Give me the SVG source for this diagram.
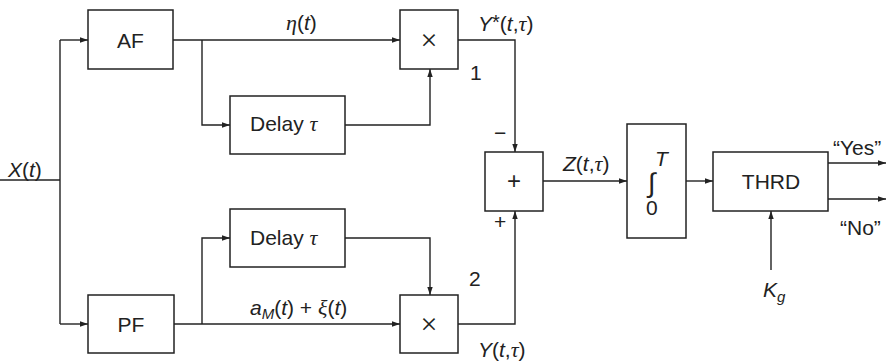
<svg xmlns="http://www.w3.org/2000/svg" width="886" height="362" viewBox="0 0 886 362">
<style>
.box{fill:#fff;stroke:#222;stroke-width:1.5}
.ln{fill:none;stroke:#222;stroke-width:1.4}
text{font-family:"Liberation Sans",Arial,sans-serif;font-size:21px;fill:#222}
.i{font-style:italic}
.g{font-family:"Liberation Serif","Times New Roman",serif;font-style:italic;font-size:22px}
.c{text-anchor:middle}
.x{font-family:"Liberation Serif","Times New Roman",serif;font-size:30px}
</style>
<defs>
<marker id="ah" markerUnits="userSpaceOnUse" markerWidth="10" markerHeight="8" viewBox="0 0 10 8" refX="8" refY="4" orient="auto">
<path d="M0,1.3 L8,4 L0,6.7 Z" fill="#222"/>
</marker>
</defs>
<rect width="886" height="362" fill="#fff"/>
<g id="connectors">
<path class="ln" d="M0,180 H60"/>
<path class="ln" d="M60,40 V324"/>
<path class="ln" d="M60,40 H88" marker-end="url(#ah)"/>
<path class="ln" d="M60,324 H88" marker-end="url(#ah)"/>
<path class="ln" d="M173,40 H400" marker-end="url(#ah)"/>
<path class="ln" d="M202,40 V125 H230" marker-end="url(#ah)"/>
<path class="ln" d="M345,125 H430 V69" marker-end="url(#ah)"/>
<path class="ln" d="M458,40 H515 V152" marker-end="url(#ah)"/>
<path class="ln" d="M174,324 H400" marker-end="url(#ah)"/>
<path class="ln" d="M202,324 V238 H230" marker-end="url(#ah)"/>
<path class="ln" d="M345,238 H430 V295" marker-end="url(#ah)"/>
<path class="ln" d="M458,324 H515 V211" marker-end="url(#ah)"/>
<path class="ln" d="M543,181 H627" marker-end="url(#ah)"/>
<path class="ln" d="M686,181 H713" marker-end="url(#ah)"/>
<path class="ln" d="M828,163 H886" marker-end="url(#ah)"/>
<path class="ln" d="M828,199 H886" marker-end="url(#ah)"/>
<path class="ln" d="M771,270 V211" marker-end="url(#ah)"/>
</g>
<g id="labels">
<text x="8" y="177"><tspan class="i">X</tspan>(<tspan class="i">t</tspan>)</text>
<text x="286" y="30"><tspan class="g">η</tspan>(<tspan class="i">t</tspan>)</text>
<text x="478" y="31"><tspan class="i">Y</tspan><tspan font-size="20" dy="-2">*</tspan><tspan dy="2">(</tspan><tspan class="i">t</tspan>,<tspan class="g">τ</tspan>)</text>
<text x="470" y="80">1</text>
<text x="494" y="140">−</text>
<text x="494" y="229">+</text>
<text x="469" y="286">2</text>
<text x="478" y="357"><tspan class="i">Y</tspan>(<tspan class="i">t</tspan>,<tspan class="g">τ</tspan>)</text>
<text x="250" y="315"><tspan class="i">a</tspan><tspan class="i" font-size="15" dy="4">M</tspan><tspan dy="-4">(</tspan><tspan class="i">t</tspan>) + <tspan class="g">ξ</tspan>(<tspan class="i">t</tspan>)</text>
<text x="563" y="171"><tspan class="i">Z</tspan>(<tspan class="i">t</tspan>,<tspan class="g">τ</tspan>)</text>
<text x="833" y="155">“Yes”</text>
<text x="840" y="235">“No”</text>
<text x="763" y="297"><tspan class="i">K</tspan><tspan class="i" font-size="15" dy="5">g</tspan></text>
</g>
<g id="af"><rect class="box" x="88" y="10" width="85" height="59"/><text class="c" x="130.5" y="48">AF</text></g>
<g id="pf"><rect class="box" x="88" y="295" width="86" height="58"/><text class="c" x="131" y="332">PF</text></g>
<g id="delay1"><rect class="box" x="230" y="96" width="115" height="58"/><text x="250" y="131">Delay <tspan class="g">τ</tspan></text></g>
<g id="delay2"><rect class="box" x="230" y="209" width="115" height="58"/><text x="250" y="245">Delay <tspan class="g">τ</tspan></text></g>
<g id="mult1"><rect class="box" x="400" y="10" width="58" height="59"/><text class="c x" x="429" y="50">×</text></g>
<g id="mult2"><rect class="box" x="400" y="295" width="58" height="58"/><text class="c x" x="429" y="334">×</text></g>
<g id="sum"><rect class="box" x="485" y="152" width="58" height="59"/><text class="c" x="514" y="189" style="font-size:24px">+</text></g>
<g id="integrator"><rect class="box" x="627" y="124" width="59" height="114"/>
<text class="i" x="655" y="166">T</text>
<text class="i" x="648" y="192" style="font-size:27px">∫</text>
<text x="646" y="215">0</text></g>
<g id="thrd"><rect class="box" x="713" y="152" width="115" height="59"/><text class="c" x="771" y="189">THRD</text></g>
</svg>
